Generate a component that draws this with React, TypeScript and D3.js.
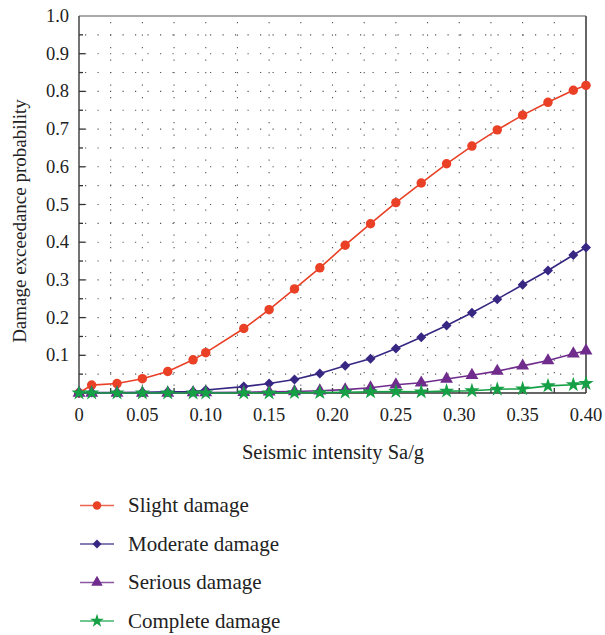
import React, { useEffect, useRef } from 'react'
import * as d3 from 'd3'

// x values of the sampled points (Sa/g)
const intensity = [0, 0.01, 0.03, 0.05, 0.07, 0.09, 0.10, 0.13, 0.15, 0.17, 0.19, 0.21, 0.23, 0.25, 0.27, 0.29, 0.31, 0.33, 0.35, 0.37, 0.39, 0.40]

const slight = [0, 0.021, 0.025, 0.038, 0.057, 0.088, 0.107, 0.171, 0.221, 0.276, 0.332, 0.392, 0.449, 0.505, 0.557, 0.608, 0.655, 0.698, 0.737, 0.771, 0.803, 0.816]
const moderate = [0, 0.001, 0.001, 0.002, 0.003, 0.004, 0.008, 0.017, 0.025, 0.036, 0.052, 0.072, 0.091, 0.118, 0.148, 0.179, 0.213, 0.249, 0.287, 0.325, 0.366, 0.386]
const serious = [0, 0, 0, 0, 0, 0.001, 0.001, 0.002, 0.003, 0.004, 0.006, 0.009, 0.014, 0.022, 0.027, 0.037, 0.047, 0.058, 0.072, 0.086, 0.104, 0.112]
const complete = [0, 0, 0, 0, 0, 0, 0, 0, 0, 0.001, 0.001, 0.002, 0.003, 0.004, 0.003, 0.005, 0.006, 0.010, 0.011, 0.019, 0.022, 0.025]

const xTicks = [0, 0.05, 0.10, 0.15, 0.20, 0.25, 0.30, 0.35, 0.40]
const yTicks = [0.1, 0.2, 0.3, 0.4, 0.5, 0.6, 0.7, 0.8, 0.9, 1.0]

const seriesNames = ['Slight damage', 'Moderate damage', 'Serious damage', 'Complete damage']

const FONT = '"Liberation Serif", "DejaVu Serif", serif'

export default function App() {
    const ref = useRef<SVGSVGElement>(null)

    useEffect(() => {
        draw()
    }, [])

    const draw = () => {
        const svg = d3.select(ref.current)
        svg.selectAll('*').remove()

        const left = 79, right = 586, top = 16, bottom = 393
        const x = d3.scaleLinear().domain([0, 0.4]).range([left, right])
        const y = d3.scaleLinear().domain([0, 1]).range([bottom, top])

        // dotted grid
        const grid = svg.append('g').attr('stroke', '#555').attr('stroke-width', 1.1)
        d3.range(1, 20).forEach(i => {
            grid.append('line')
                .attr('x1', left + 6).attr('x2', right)
                .attr('y1', y(i * 0.05)).attr('y2', y(i * 0.05))
                .attr('stroke-dasharray', '1.2 11.3')
        })
        d3.range(1, 16).forEach(i => {
            grid.append('line')
                .attr('x1', x(i * 0.025)).attr('x2', x(i * 0.025))
                .attr('y1', top + 6).attr('y2', bottom)
                .attr('stroke-dasharray', '1.2 11.3')
        })

        // frame
        svg.append('line').attr('x1', left).attr('x2', right).attr('y1', top).attr('y2', top)
            .attr('stroke', '#555').attr('stroke-width', 1.2)
        svg.append('line').attr('x1', right).attr('x2', right).attr('y1', top).attr('y2', bottom)
            .attr('stroke', '#666').attr('stroke-width', 2)
        svg.append('line').attr('x1', left).attr('x2', right).attr('y1', bottom).attr('y2', bottom)
            .attr('stroke', '#333').attr('stroke-width', 1.5)
        svg.append('line').attr('x1', left).attr('x2', left).attr('y1', top).attr('y2', bottom)
            .attr('stroke', '#444').attr('stroke-width', 1.5)

        // inward ticks
        d3.range(1, 20).forEach(i => {
            svg.append('line')
                .attr('x1', left).attr('x2', left + (i % 2 === 0 ? 6 : 4))
                .attr('y1', y(i * 0.05)).attr('y2', y(i * 0.05))
                .attr('stroke', '#333').attr('stroke-width', 1.3)
        })
        d3.range(1, 16).forEach(i => {
            svg.append('line')
                .attr('x1', x(i * 0.025)).attr('x2', x(i * 0.025))
                .attr('y1', bottom).attr('y2', bottom - 5)
                .attr('stroke', '#333').attr('stroke-width', 1.3)
        })

        // tick labels
        svg.append('g').selectAll('text').data(yTicks).join('text')
            .attr('x', 69).attr('y', d => y(d) + 6)
            .attr('text-anchor', 'end')
            .attr('font-family', FONT).attr('font-size', 18.5).attr('fill', '#222')
            .text(d => d.toFixed(1))
        svg.append('g').selectAll('text').data(xTicks).join('text')
            .attr('x', d => x(d)).attr('y', 421)
            .attr('text-anchor', 'middle')
            .attr('font-family', FONT).attr('font-size', 18.5).attr('fill', '#222')
            .text(d => d === 0 ? '0' : d.toFixed(2))

        // axis titles
        svg.append('text')
            .attr('transform', `translate(26,${221}) rotate(-90)`)
            .attr('text-anchor', 'middle')
            .attr('font-family', FONT).attr('font-size', 19).attr('fill', '#222')
            .text('Damage exceedance probability')
        svg.append('text')
            .attr('x', 333).attr('y', 459)
            .attr('text-anchor', 'middle')
            .attr('font-family', FONT).attr('font-size', 20.5).attr('fill', '#222')
            .text('Seismic intensity Sa/g')

        // diamonds are squares turned by 45 degrees
        const series = [
            { name: seriesNames[0], values: slight, color: 'rgb(233,64,38)', symbol: d3.symbolCircle, size: 70, rot: 0 },
            { name: seriesNames[1], values: moderate, color: 'rgb(55,38,130)', symbol: d3.symbolSquare, size: 50, rot: 45 },
            { name: seriesNames[2], values: serious, color: 'rgb(112,44,140)', symbol: d3.symbolTriangle, size: 72, rot: 0 },
            { name: seriesNames[3], values: complete, color: 'rgb(22,160,70)', symbol: d3.symbolStar, size: 72, rot: 0 },
        ]

        const line = d3.line<number>()
            .x((d, i) => x(intensity[i]))
            .y(d => y(d))

        series.forEach(s => {
            svg.append('path')
                .datum(s.values)
                .attr('fill', 'none')
                .attr('stroke', s.color)
                .attr('stroke-width', 1.6)
                .attr('d', line)
            svg.append('g').selectAll('path').data(s.values).join('path')
                .attr('transform', (d, i) => `translate(${x(intensity[i])},${y(d)}) rotate(${s.rot})`)
                .attr('d', d3.symbol(s.symbol, s.size)())
                .attr('fill', s.color)
        })

        // legend
        const legendY = [505.5, 544, 582.5, 621]
        series.forEach((s, i) => {
            const g = svg.append('g').attr('transform', `translate(0,${legendY[i]})`)
            g.append('line').attr('x1', 80).attr('x2', 114).attr('y1', 0).attr('y2', 0)
                .attr('stroke', s.color).attr('stroke-width', 1.6).attr('opacity', 0.8)
            g.append('path').attr('transform', `translate(97,0) rotate(${s.rot})`)
                .attr('d', d3.symbol(s.symbol, s.size * 0.8)())
                .attr('fill', s.color)
            g.append('text').attr('x', 128).attr('y', 6.5)
                .attr('font-family', FONT).attr('font-size', 21).attr('fill', '#222')
                .text(s.name)
        })
    }

    return (
        <svg ref={ref} width={605} height={635} style={{ position: 'absolute', left: 0, top: 0, background: '#fff' }}></svg>
    )
}
